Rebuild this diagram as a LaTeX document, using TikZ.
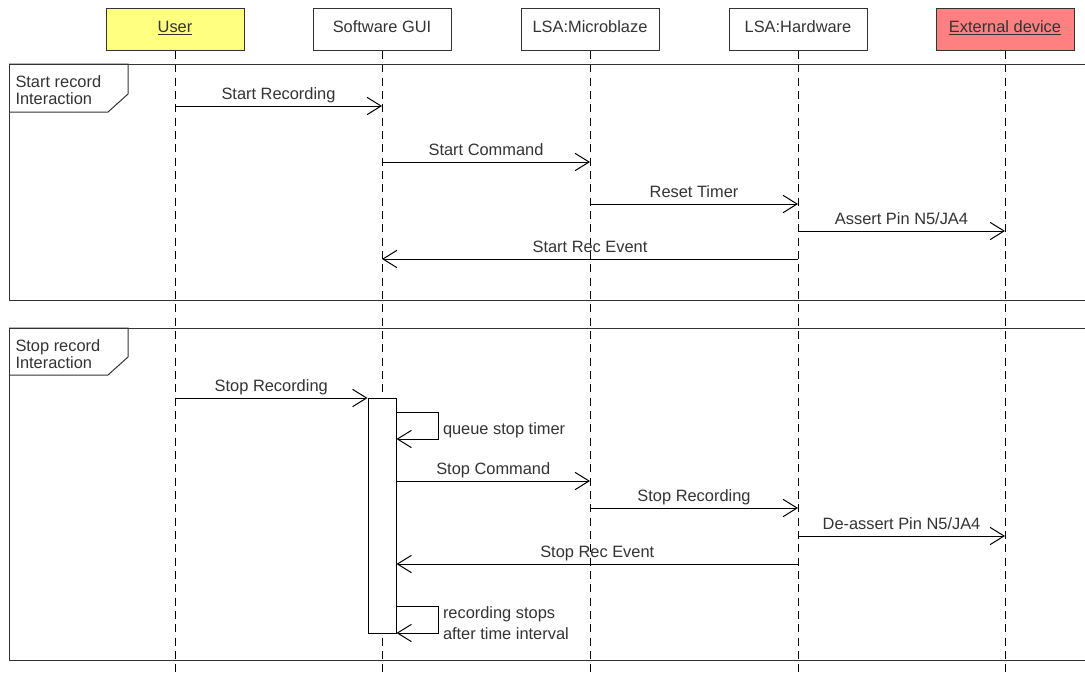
\documentclass[tikz,border=0pt]{standalone}
\usepackage{fontspec}
\setmainfont{Liberation Sans}
\usetikzlibrary{arrows.meta}

\definecolor{usercol}{RGB}{255,255,128}
\definecolor{extcol}{RGB}{255,128,128}
\definecolor{linecol}{RGB}{51,51,51}

\tikzset{every picture/.style={line width=0.75pt}}
\tikzset{
  head/.style={draw=linecol, fill=white, minimum width=103.5pt, minimum height=31.5pt,
    inner sep=0pt, text height=9pt, text depth=5pt, font=\fontsize{12.3}{14}\selectfont, text=linecol},
  lifeline/.style={draw=black, dash pattern=on 6pt off 4pt},
  frameline/.style={draw=linecol},
  msg/.style={draw=black, -{Straight Barb[length=10.5pt,width=13pt]}},
  msglabel/.style={midway, above=1pt, inner sep=1pt, text height=9pt, text depth=2.5pt,
    font=\fontsize{12.3}{14}\selectfont, text=linecol},
  selflabel/.style={right, inner sep=3pt, align=left, text=linecol},
  tablabel/.style={anchor=west, inner sep=0pt, align=left, text=linecol,
    font=\fontsize{12.3}{12.75}\selectfont},
  actbox/.style={draw=black, fill=white, minimum width=21pt, minimum height=176.25pt, inner sep=0pt}
}

\begin{document}
\begin{tikzpicture}[x=0.75pt,y=0.75pt,yscale=-1,xscale=1]
	\fill[white] (0,0) rectangle (1085,672);
	\useasboundingbox (0,0) rectangle (1085,672);

	% lifeline heads
	\node[head, fill=usercol] (user) at (175,29.5) {\underline{User}};
	\node[head] (gui) at (382,29.5) {Software GUI};
	\node[head] (mb) at (590,29.5) {LSA:Microblaze};
	\node[head] (hw) at (798,29.5) {LSA:Hardware};
	\node[head, fill=extcol] (ext) at (1005,29.5) {\underline{External device}};

	% lifelines
	\foreach \n in {user,gui,mb,hw,ext}
		\draw[lifeline] (\n.south) -- (\n.south |- 0,672);

	% frame: start record
	\draw[frameline] (1085,64) -- (9,64) -- (9,300) -- (1085,300);
	\draw[frameline] (9,64) -- (128,64) -- (128,94) -- (108,112) -- (9,112);
	\node[tablabel] (startlbl) at (15,90) {Start record\\Interaction};

	% frame: stop record
	\draw[frameline] (1085,328) -- (9,328) -- (9,660) -- (1085,660);
	\draw[frameline] (9,328) -- (128,328) -- (128,357) -- (108,375) -- (9,375);
	\node[tablabel] (stoplbl) at (15,354) {Stop record\\Interaction};

	% start record messages
	\draw[msg] (user |- 0,106) -- (gui |- 0,106) node[msglabel] {Start Recording};
	\draw[msg] (gui |- 0,162) -- (mb |- 0,162) node[msglabel] {Start Command};
	\draw[msg] (mb |- 0,204) -- (hw |- 0,204) node[msglabel] {Reset Timer};
	\draw[msg] (hw |- 0,231) -- (ext |- 0,231) node[msglabel] {Assert Pin N5/JA4};
	\draw[msg] (hw |- 0,259) -- (gui |- 0,259) node[msglabel] {Start Rec Event};

	% activation on the GUI
	\node[actbox] (act) at (382,515.5) {};

	% stop record messages
	\draw[msg] (user |- 0,398) -- (act.west |- 0,398) node[msglabel] {Stop Recording};
	\draw[msg] (act.east |- 0,412) -- ++(42,0) -- ++(0,27)
		node[midway, selflabel, yshift=-3.4pt, font=\fontsize{12.3}{14}\selectfont] {queue stop timer}
		-- (act.east |- 0,439);
	\draw[msg] (act.east |- 0,481) -- (mb |- 0,481) node[msglabel] {Stop Command};
	\draw[msg] (mb |- 0,508) -- (hw |- 0,508) node[msglabel] {Stop Recording};
	\draw[msg] (hw |- 0,536) -- (ext |- 0,536) node[msglabel] {De-assert Pin N5/JA4};
	\draw[msg] (hw |- 0,564) -- (act.east |- 0,564) node[msglabel] {Stop Rec Event};
	\draw[msg] (act.east |- 0,606) -- ++(42,0) -- ++(0,27)
		node[midway, selflabel, yshift=-3pt, font=\fontsize{12.3}{15.75}\selectfont] {recording stops\\after time interval}
		-- (act.east |- 0,633);

\end{tikzpicture}
\end{document}
